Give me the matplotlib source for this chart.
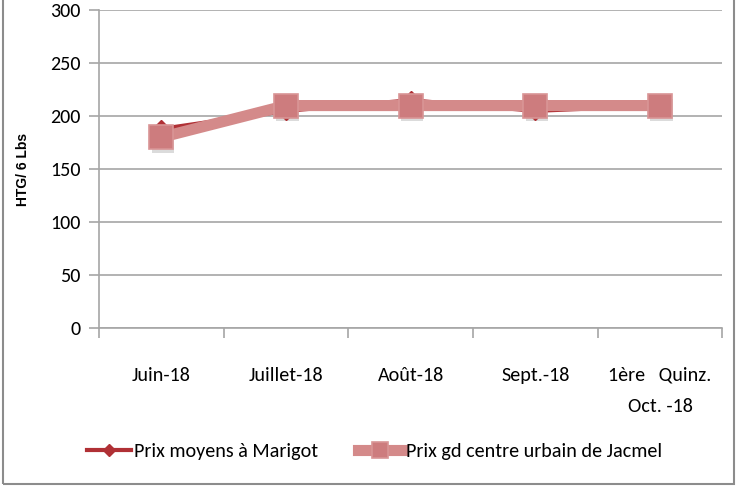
import matplotlib
matplotlib.use("Agg")
import matplotlib.pyplot as plt
import matplotlib.patheffects as pe
from matplotlib.ticker import FixedLocator, NullFormatter

categories = ["Juin-18", "Juillet-18", "Août-18", "Sept.-18", "1ère   Quinz.\nOct. -18"]
marigot = [188, 205, 215, 205, 210]
jacmel = [180, 210, 210, 210, 210]
yticks = [0, 50, 100, 150, 200, 250, 300]

FONT = ["Carlito", "DejaVu Sans"]
plt.rcParams['font.family'] = FONT

fig = plt.figure(figsize=(7.36, 4.86), dpi=100)
ax = fig.add_axes([0.1345, 0.325, 0.847, 0.654])

x = list(range(len(categories)))

# soft shadow below the square markers
ax.plot(x, jacmel, ls='none', marker='s', markersize=16, markerfacecolor='#9A9A9A',
        markeredgecolor='none', alpha=0.35, zorder=2,
        path_effects=[pe.Stroke(offset=(1, -3))])

l1, = ax.plot(x, marigot, color='#B03035', lw=3, marker='D', markersize=9,
              markerfacecolor='#B03035', markeredgecolor='#B03035', zorder=3,
              label='Prix moyens à Marigot')
l2, = ax.plot(x, jacmel, color='#D48A8A', lw=8, marker='s', markersize=17,
              markerfacecolor='#CD7C7E', markeredgecolor='#D99596', markeredgewidth=1.2,
              zorder=4, label='Prix gd centre urbain de Jacmel')

ax.set_xlim(-0.5, len(categories) - 0.5)
ax.set_ylim(0, 300)
ax.set_yticks(yticks)
ax.yaxis.grid(True, color='#A6A6A6', lw=1.2)
ax.set_axisbelow(True)

ax.set_xticks(x)
ax.set_xticklabels(categories, fontsize=14.5, linespacing=2.0)
ax.tick_params(axis='x', which='major', length=0, pad=28)
ax.xaxis.set_minor_locator(FixedLocator([i + 0.5 for i in range(-1, len(categories))]))
ax.xaxis.set_minor_formatter(NullFormatter())
ax.tick_params(axis='x', which='minor', length=7, color='#A6A6A6', width=1.2, direction='out')
ax.tick_params(axis='y', length=7, color='#A6A6A6', width=1.2, labelsize=14.5, pad=6)

for s in ['top', 'right']:
    ax.spines[s].set_visible(False)
for s in ['left', 'bottom']:
    ax.spines[s].set_color('#A6A6A6')
    ax.spines[s].set_linewidth(1.2)

ax.set_ylabel('HTG/ 6 Lbs', fontsize=10, fontweight='bold',
              family=['Liberation Sans', 'DejaVu Sans'])
ax.yaxis.set_label_coords(-0.11, 0.5)

leg = fig.legend(handles=[l1, l2], loc='center left', bbox_to_anchor=(0.093, 0.072),
                 ncol=2, frameon=False, fontsize=14.5, handlelength=2.2,
                 columnspacing=2.0, handletextpad=0.15, markerscale=0.65)

# figure border
border = plt.Rectangle((0.004, 0.004), 0.993, 1.2, transform=fig.transFigure,
                       fill=False, edgecolor='#8C8C8C', lw=1.5, clip_on=False)
fig.patches.append(border)

fig.savefig('out.png', dpi=100)
